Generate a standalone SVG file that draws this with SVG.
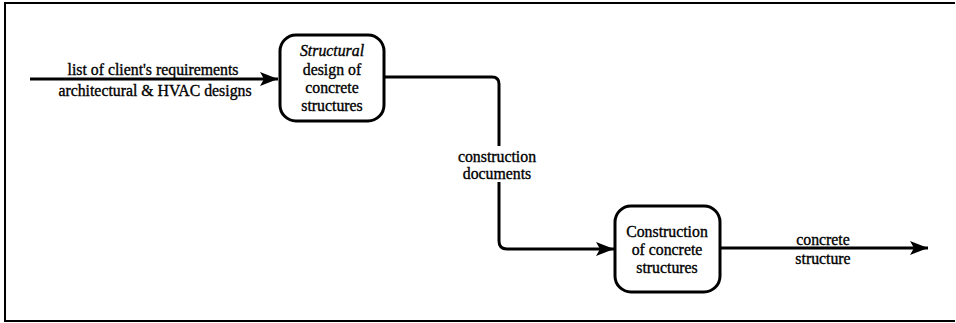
<svg xmlns="http://www.w3.org/2000/svg" width="956" height="323" viewBox="0 0 956 323">
<style>
  text { font-family: "Liberation Serif", "DejaVu Serif", "Times New Roman", serif; font-size: 15.8px; fill: #000; stroke: #000; stroke-width: 0.35; text-anchor: middle; }
  .box { fill: #fff; stroke: #000; stroke-width: 3; }
  .conn { fill: none; stroke: #000; stroke-width: 3; }
  .frame { fill: none; stroke: #000; stroke-width: 2; }
</style>
<defs>
  <marker id="arrow" markerUnits="userSpaceOnUse" markerWidth="18" markerHeight="14" refX="18" refY="7" orient="auto">
    <path d="M0,0 L18,7 L0,14 L4,7 Z" fill="#000"/>
  </marker>
</defs>
<path class="frame" d="M955,3 H5 V321 H955"/>
<g id="connectors">
  <path class="conn" d="M30,79 H278" marker-end="url(#arrow)"/>
  <path class="conn" d="M384,77 H492 Q499,77 499,84 V146"/>
  <path class="conn" d="M499,182 V241 Q499,249 507,249 H614" marker-end="url(#arrow)"/>
  <path class="conn" d="M720,248 H928" marker-end="url(#arrow)"/>
  <text x="153" y="75">list of client's requirements</text>
  <text x="155" y="96">architectural &amp; HVAC designs</text>
  <text x="497" y="162">construction</text>
  <text x="497" y="179">documents</text>
  <text x="823" y="245">concrete</text>
  <text x="823" y="264">structure</text>
</g>
<g id="node-design">
  <rect class="box" x="280" y="35" width="104" height="86" rx="16"/>
  <text x="332" y="56" font-style="italic">Structural</text>
  <text x="332" y="75">design of</text>
  <text x="332" y="93">concrete</text>
  <text x="332" y="111">structures</text>
</g>
<g id="node-construction">
  <rect class="box" x="615" y="206" width="105" height="86" rx="16"/>
  <text x="667" y="237">Construction</text>
  <text x="667" y="255">of concrete</text>
  <text x="667" y="273">structures</text>
</g>
</svg>
